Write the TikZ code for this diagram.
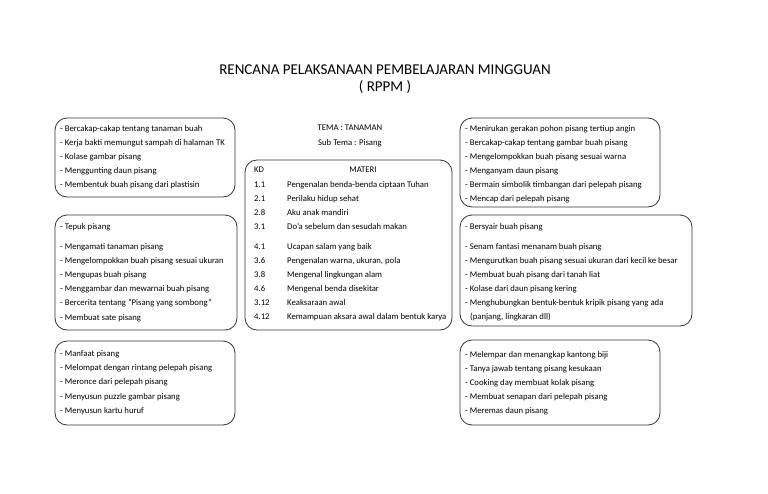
\documentclass[tikz,border=0pt]{standalone}
\usepackage{fontspec}
\setmainfont{Carlito}

\begin{document}
\begin{tikzpicture}[x=1pt,y=-1pt,
  box/.style={draw=black!80, line width=0.8pt, rounded corners=12pt},
  item/.style={anchor=west, inner sep=0pt, text height=6.2pt, text depth=1.8pt, font=\fontsize{8.7}{10}\selectfont},
  head/.style={inner sep=0pt, font=\fontsize{15}{18}\selectfont}]
\useasboundingbox[fill=white] (0,0) rectangle (768,493);

%title
\node[head] (title) at (385,70) {RENCANA PELAKSANAAN PEMBELAJARAN MINGGUAN};
\node[head] (rppm) at (385,87) {( RPPM )};
\node[item, anchor=center] (tema) at (350,128) {TEMA : TANAMAN};
\node[item, anchor=center] (subtema) at (350,143) {Sub Tema : Pisang};

%left column
\draw[box] (55,118) rectangle (235,197);
\node[item] (l1a) at (60,129) {- Bercakap-cakap tentang tanaman buah};
\node[item] (l1b) at (60,143) {- Kerja bakti memungut sampah di halaman TK};
\node[item] (l1c) at (60,157) {- Kolase gambar pisang};
\node[item] (l1d) at (60,171) {- Menggunting daun pisang};
\node[item] (l1e) at (60,185) {- Membentuk buah pisang dari plastisin};

\draw[box] (55,215) rectangle (237,330);
\node[item] (l2a) at (60,227) {- Tepuk pisang};
\node[item] (l2b) at (60,247) {- Mengamati tanaman pisang};
\node[item] (l2c) at (60,261) {- Mengelompokkan buah pisang sesuai ukuran};
\node[item] (l2d) at (60,275) {- Mengupas buah pisang};
\node[item] (l2e) at (60,289) {- Menggambar dan mewarnai buah pisang};
\node[item] (l2f) at (60,303) {- Bercerita tentang ``Pisang yang sombong''};
\node[item] (l2g) at (60,318) {- Membuat sate pisang};

\draw[box] (55,341) rectangle (235,425);
\node[item] (l3a) at (60,354) {- Manfaat pisang};
\node[item] (l3b) at (60,368) {- Melompat dengan rintang pelepah pisang};
\node[item] (l3c) at (60,382) {- Meronce dari pelepah pisang};
\node[item] (l3d) at (60,397) {- Menyusun puzzle gambar pisang};
\node[item] (l3e) at (60,411) {- Menyusun kartu huruf};

%center
\draw[box] (245,160) rectangle (452,330);
\node[item] (kd) at (254,170) {KD};
\node[item, anchor=center] (materi) at (363,170) {MATERI};
\node[item] (n1) at (254,185) {1.1};
\node[item] (m1) at (287,185) {Pengenalan benda-benda ciptaan Tuhan};
\node[item] (n2) at (254,199) {2.1};
\node[item] (m2) at (287,199) {Perilaku hidup sehat};
\node[item] (n3) at (254,213) {2.8};
\node[item] (m3) at (287,213) {Aku anak mandiri};
\node[item] (n4) at (254,227) {3.1};
\node[item] (m4) at (287,227) {Do'a sebelum dan sesudah makan};
\node[item] (n5) at (254,247) {4.1};
\node[item] (m5) at (287,247) {Ucapan salam yang baik};
\node[item] (n6) at (254,261) {3.6};
\node[item] (m6) at (287,261) {Pengenalan warna, ukuran, pola};
\node[item] (n7) at (254,275) {3.8};
\node[item] (m7) at (287,275) {Mengenal lingkungan alam};
\node[item] (n8) at (254,289) {4.6};
\node[item] (m8) at (287,289) {Mengenal benda disekitar};
\node[item] (n9) at (254,303) {3.12};
\node[item] (m9) at (287,303) {Keaksaraan awal};
\node[item] (n10) at (254,317) {4.12};
\node[item] (m10) at (287,317) {Kemampuan aksara awal dalam bentuk karya};

%right column
\draw[box] (460,118) rectangle (660,207);
\node[item] (r1a) at (465,129) {- Menirukan gerakan pohon pisang tertiup angin};
\node[item] (r1b) at (465,143) {- Bercakap-cakap tentang gambar buah pisang};
\node[item] (r1c) at (465,157) {- Mengelompokkan buah pisang sesuai warna};
\node[item] (r1d) at (465,171) {- Menganyam daun pisang};
\node[item] (r1e) at (465,185) {- Bermain simbolik timbangan dari pelepah pisang};
\node[item] (r1f) at (465,199) {- Mencap dari pelepah pisang};

\draw[box] (460,215) rectangle (692,326);
\node[item] (r2a) at (465,227) {- Bersyair buah pisang};
\node[item] (r2b) at (465,247) {- Senam fantasi menanam buah pisang};
\node[item] (r2c) at (465,261) {- Mengurutkan buah pisang sesuai ukuran dari kecil ke besar};
\node[item] (r2d) at (465,275) {- Membuat buah pisang dari tanah liat};
\node[item] (r2e) at (465,289) {- Kolase dari daun pisang kering};
\node[item] (r2f) at (465,303) {- Menghubungkan bentuk-bentuk kripik pisang yang ada};
\node[item] (r2g) at (470,317) {(panjang, lingkaran dll)};

\draw[box] (460,340) rectangle (660,425);
\node[item] (r3a) at (465,355) {- Melempar dan menangkap kantong biji};
\node[item] (r3b) at (465,369) {- Tanya jawab tentang pisang kesukaan};
\node[item] (r3c) at (465,383) {- Cooking day membuat kolak pisang};
\node[item] (r3d) at (465,397) {- Membuat senapan dari pelepah pisang};
\node[item] (r3e) at (465,411) {- Meremas daun pisang};

\end{tikzpicture}
\end{document}
